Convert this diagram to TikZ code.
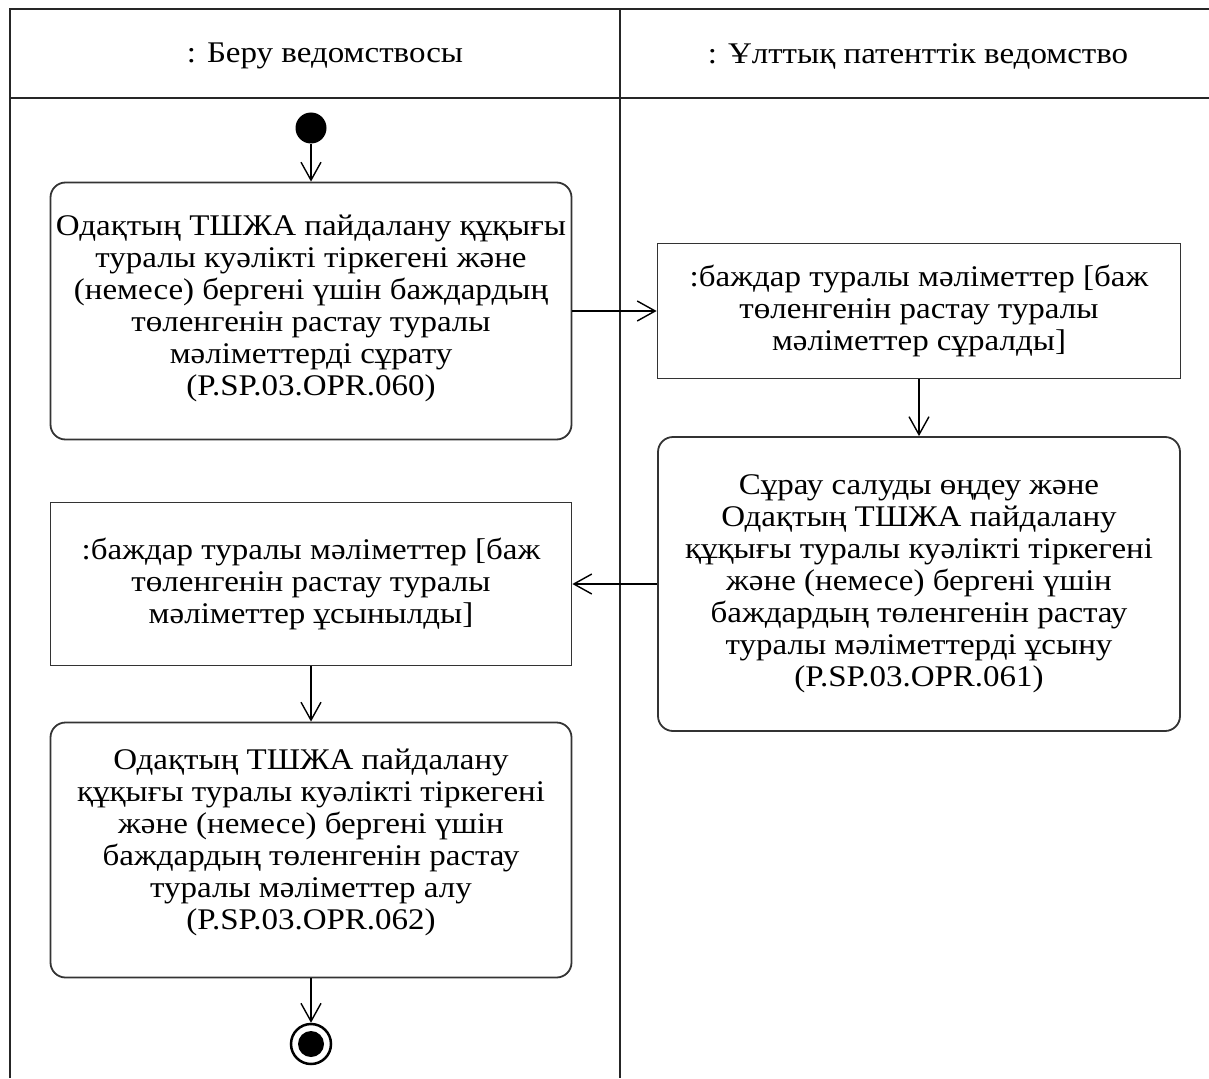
\documentclass[tikz,border=0pt]{standalone}
\usepackage{fontspec}
\setmainfont[FakeStretch=1.1]{Liberation Serif}
\usepackage{tikz}
\usetikzlibrary{arrows.meta,positioning}

\begin{document}
\begin{tikzpicture}[
    x=1pt, y=-1pt,
    font=\fontsize{30}{32}\selectfont,
    every node/.style={inner sep=0pt, align=center},
    action/.style={draw=black!80, line width=1.8pt, rounded corners=15pt},
    object/.style={draw=black!80, line width=1.8pt},
    lane/.style={draw=black!85, line width=2pt},
    every edge/.style={draw, line width=1.4pt, -{Straight Barb[length=18pt,width=20pt,line width=1.4pt]}}
]
\useasboundingbox (0,0) rectangle (1209,1078);

% Swimlanes
\draw[lane] (10,1078) -- (10,9) -- (1209,9);
\draw[lane] (10,98) -- (1209,98);
\draw[lane] (620,9) -- (620,1078);
\node (lane1) at (325,56) {: Беру ведомствосы};
\node (lane2) at (918,56) {: Ұлттық патенттік ведомство};

% Nodes
\node (start) [circle, fill=black, minimum size=31pt] at (311,128) {};
\node (req) [action, minimum width=521pt, minimum height=257pt] at (311,311)
  {Одақтың ТШЖА пайдалану құқығы\\туралы куәлікті тіркегені және\\(немесе) бергені үшін баждардың\\төленгенін растау туралы\\мәліметтерді сұрату\\(P.SP.03.OPR.060)\\[-21pt]\mbox{}};
\node (obj1) [object, minimum width=523pt, minimum height=135pt] at (919,311)
  {:баждар туралы мәліметтер [баж\\төленгенін растау туралы\\мәліметтер сұралды]};
\node (proc) [action, minimum width=522pt, minimum height=294pt] at (919,584)
  {Сұрау салуды өңдеу және\\Одақтың ТШЖА пайдалану\\құқығы туралы куәлікті тіркегені\\және (немесе) бергені үшін\\баждардың төленгенін растау\\туралы мәліметтерді ұсыну\\(P.SP.03.OPR.061)};
\node (obj2) [object, minimum width=521pt, minimum height=163pt] at (311,584)
  {:баждар туралы мәліметтер [баж\\төленгенін растау туралы\\мәліметтер ұсынылды]};
\node (recv) [action, minimum width=521pt, minimum height=255pt] at (311,850)
  {Одақтың ТШЖА пайдалану\\құқығы туралы куәлікті тіркегені\\және (немесе) бергені үшін\\баждардың төленгенін растау\\туралы мәліметтер алу\\(P.SP.03.OPR.062)\\[-10pt]\mbox{}};
\node (stop) [circle, draw=black, line width=2.5pt, minimum size=40pt] at (311,1044) {};
\node (stopin) [circle, fill=black, minimum size=26pt] at (stop) {};

% Edges
\path (start) edge (req);
\path (req) edge (obj1);
\path (obj1) edge (proc);
\path (proc) edge (obj2);
\path (obj2) edge (recv);
\path (recv) edge (stop);

\end{tikzpicture}
\end{document}
